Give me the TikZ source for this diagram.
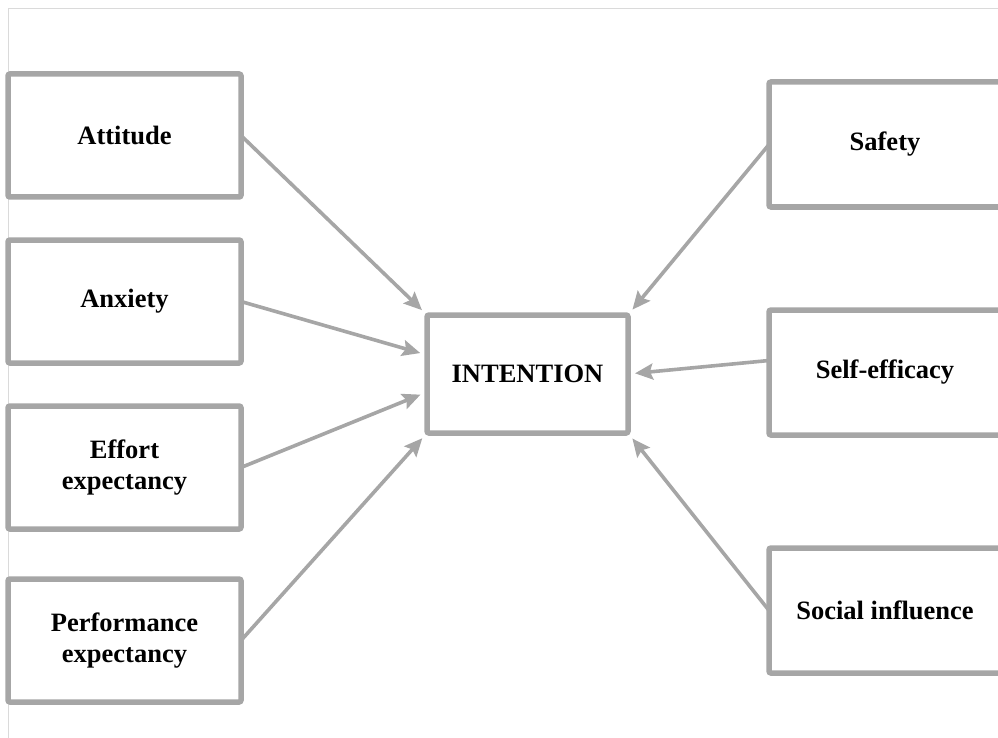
\documentclass[tikz,border=0pt]{standalone}
\usepackage{fontspec}
\setmainfont{Liberation Serif}
\usetikzlibrary{arrows.meta,positioning}
\definecolor{boxgray}{HTML}{A6A6A6}
\definecolor{framegray}{HTML}{DADADA}

\begin{document}
\begin{tikzpicture}[x=1pt,y=1pt,>={Stealth[length=18pt,width=16pt,inset=3pt]},node distance=43pt,align=center,
		factor/.style={draw=boxgray,line width=5.5pt,rounded corners=2pt,minimum width=233pt,minimum height=123pt,outer sep=0pt,font=\bfseries\fontsize{26.5}{31}\selectfont},
		rightfactor/.style={factor,minimum width=232pt,minimum height=125pt},
		link/.style={boxgray,line width=3.6pt,shorten >=7pt}]
		\useasboundingbox (0,0) rectangle (998,-738);
		\draw[framegray,line width=1pt] (8,-738) -- (8,-9) -- (998,-9);
		% left column
		\node[factor] (att) at (124.5,-135.5) {Attitude};
		\node[factor] [below=of att] (anx) {Anxiety};
		\node[factor] [below=of anx] (eff) {Effort\\expectancy};
		\node[factor] [below=50pt of eff] (perf) {Performance\\expectancy};
		% centre
		\node[factor,minimum width=201pt,minimum height=118pt] (int) at (527.5,-374) {INTENTION};
		% right column
		\node[rightfactor] (saf) at (885,-144.5) {Safety};
		\node[rightfactor] [below=103pt of saf] (self) {Self-efficacy};
		\node[rightfactor] [below=113pt of self] (soc) {Social influence};
		\path[->,link]
			(att.east) edge (int.north west)
			(anx.east) edge ([yshift=19pt]int.west)
			(eff.east) edge ([yshift=-18pt]int.west)
			(perf.east) edge (int.south west)
			(saf.west) edge (int.north east)
			([yshift=12pt]self.west) edge (int.east)
			(soc.west) edge (int.south east);
	\end{tikzpicture}
\end{document}
